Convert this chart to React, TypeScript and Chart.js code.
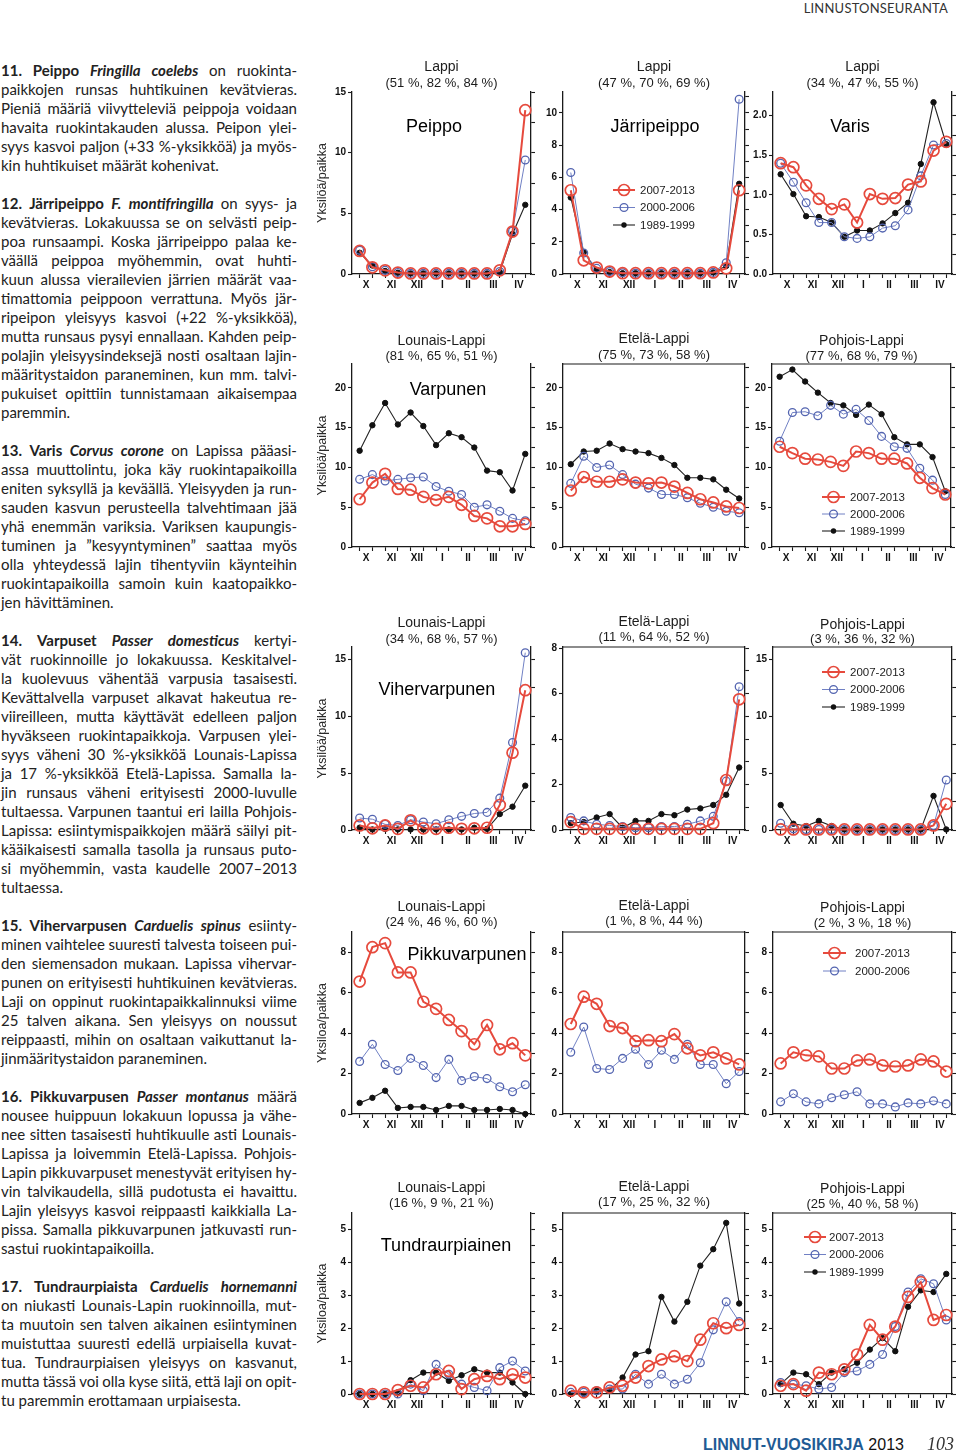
import React, { useEffect, useRef } from "react";
import { Chart, registerables } from "chart.js";
Chart.register(...registerables);

const FONT = "'Liberation Sans', Arial, Helvetica, sans-serif";
Chart.defaults.font.family = FONT;

// ---------- categories / labels ----------
const MONTHS = ["X", "XI", "XII", "I", "II", "III", "IV"];
const PERIODS = ["2007-2013", "2000-2006", "1989-1999"];

// ---------- y tick label sets ----------
const T15 = [0, 5, 10, 15];
const T10 = [0, 2, 4, 6, 8, 10];
const T2 = [0, 0.5, 1, 1.5, 2];
const T20 = [0, 5, 10, 15, 20];
const T8 = [0, 2, 4, 6, 8];
const T5 = [0, 1, 2, 3, 4, 5];

// ---------- data (14 half-month periods, Oct..Apr) ----------
// Peippo, Lappi
const peippo_2007 = [1.9, 0.55, 0.3, 0.12, 0.05, 0.05, 0.05, 0.05, 0.05, 0.05, 0.05, 0.3, 3.5, 13.5];
const peippo_2000 = [1.95, 0.6, 0.3, 0.12, 0.05, 0.05, 0.05, 0.05, 0.05, 0.05, 0.05, 0.2, 3.55, 9.4];
const peippo_1989 = [1.75, 0.7, 0.25, 0.1, 0.05, 0.05, 0.05, 0.05, 0.05, 0.05, 0.05, 0.15, 3.3, 5.7];
// Järripeippo, Lappi
const jarri_2007 = [5.2, 0.85, 0.4, 0.15, 0.05, 0.05, 0.05, 0.05, 0.05, 0.05, 0.05, 0.1, 0.35, 5.2];
const jarri_2000 = [6.3, 1.3, 0.35, 0.15, 0.08, 0.05, 0.05, 0.05, 0.05, 0.05, 0.05, 0.1, 0.7, 10.85];
const jarri_1989 = [4.75, 1.35, 0.25, 0.12, 0.05, 0.05, 0.05, 0.05, 0.05, 0.05, 0.05, 0.1, 0.5, 5.6];
// Varis, Lappi
const varis_2007 = [1.4, 1.35, 1.12, 0.95, 0.82, 0.88, 0.65, 1.01, 0.95, 0.96, 1.13, 1.17, 1.56, 1.67];
const varis_2000 = [1.4, 1.16, 0.9, 0.65, 0.65, 0.47, 0.45, 0.47, 0.58, 0.61, 0.81, 1.24, 1.63, 1.65];
const varis_1989 = [1.26, 1.01, 0.73, 0.72, 0.65, 0.47, 0.55, 0.55, 0.64, 0.77, 0.9, 1.39, 2.17, 1.64];
// Varpunen
const varpLou_2007 = [6.0, 8.1, 9.2, 7.3, 7.2, 6.3, 5.9, 6.3, 5.3, 3.9, 3.6, 2.6, 2.6, 2.9];
const varpLou_2000 = [8.5, 9.1, 8.3, 8.5, 8.7, 8.8, 7.6, 7.0, 6.6, 5.0, 5.3, 4.5, 3.6, 3.3];
const varpLou_1989 = [12.1, 15.3, 18.1, 15.4, 16.9, 15.2, 12.8, 14.3, 13.8, 12.5, 9.6, 9.4, 7.1, 11.7];
const varpEte_2007 = [7.1, 8.8, 8.2, 8.2, 8.5, 8.1, 8.0, 8.1, 7.6, 6.8, 6.0, 5.6, 5.1, 4.9];
const varpEte_2000 = [8.0, 11.4, 10.0, 10.3, 9.1, 7.9, 7.4, 6.6, 6.6, 6.2, 5.5, 5.0, 4.5, 4.3];
const varpEte_1989 = [10.4, 12.0, 12.1, 13.0, 12.3, 12.0, 11.8, 11.2, 10.3, 8.7, 8.7, 8.5, 7.2, 6.1];
const varpPoh_2007 = [12.6, 11.8, 11.1, 11.0, 10.7, 10.2, 12.0, 11.8, 11.1, 11.1, 10.5, 8.7, 7.4, 6.6];
const varpPoh_2000 = [13.3, 16.9, 17.0, 16.5, 17.8, 16.7, 17.3, 15.9, 13.9, 12.6, 12.4, 9.9, 8.4, 6.6];
const varpPoh_1989 = [21.4, 22.3, 20.8, 19.4, 18.1, 17.8, 16.6, 17.9, 16.7, 13.8, 12.9, 12.9, 11.3, 7.0];
// Vihervarpunen
const viheLou_2007 = [0.4, 0.15, 0.4, 0.1, 0.85, 0.15, 0.1, 0.2, 0.1, 0.15, 0.2, 2.2, 6.8, 12.3];
const viheLou_2000 = [1.05, 0.95, 0.5, 0.4, 0.9, 0.7, 0.55, 0.9, 1.2, 1.45, 1.55, 2.8, 7.7, 15.6];
const viheLou_1989 = [0.2, 0.05, 0.1, 0.05, 0.05, 0.05, 0.05, 0.05, 0.05, 0.2, 0.1, 1.4, 2.05, 3.9];
const viheEte_2007 = [0.35, 0.05, 0.05, 0.05, 0.05, 0.05, 0.05, 0.05, 0.05, 0.05, 0.05, 0.3, 2.2, 5.75];
const viheEte_2000 = [0.55, 0.4, 0.25, 0.2, 0.15, 0.1, 0.1, 0.15, 0.15, 0.25, 0.4, 0.6, 2.15, 6.3];
const viheEte_1989 = [0.3, 0.35, 0.55, 0.7, 0.1, 0.4, 0.4, 0.7, 0.65, 0.9, 0.95, 1.1, 1.55, 2.75];
const vihePoh_2007 = [0.05, 0.05, 0.05, 0.05, 0.05, 0.05, 0.05, 0.05, 0.05, 0.05, 0.05, 0.05, 0.4, 2.3];
const vihePoh_2000 = [0.6, 0.1, 0.05, 0.05, 0.05, 0.05, 0.05, 0.05, 0.05, 0.05, 0.05, 0.05, 0.4, 4.4];
const vihePoh_1989 = [2.2, 0.55, 0.35, 0.8, 0.35, 0.05, 0.05, 0.05, 0.05, 0.05, 0.05, 0.05, 3.0, 0.05];
// Pikkuvarpunen
const pikkLou_2007 = [6.55, 8.25, 8.45, 7.0, 7.0, 5.55, 5.2, 4.65, 4.1, 3.45, 4.4, 3.2, 3.5, 2.9];
const pikkLou_2000 = [2.6, 3.45, 2.45, 2.15, 2.75, 2.4, 1.8, 2.7, 1.65, 1.85, 1.75, 1.35, 1.1, 1.45];
const pikkLou_1989 = [0.55, 0.8, 1.15, 0.3, 0.35, 0.35, 0.2, 0.4, 0.4, 0.2, 0.2, 0.25, 0.2, 0.0];
const pikkEte_2007 = [4.45, 5.8, 5.45, 4.35, 4.25, 3.6, 3.65, 3.6, 3.95, 3.25, 2.9, 3.05, 2.75, 2.45];
const pikkEte_2000 = [3.05, 4.3, 2.25, 2.2, 2.75, 3.2, 2.45, 3.15, 2.7, 3.45, 2.45, 2.45, 1.5, 2.1];
const pikkPoh_2007 = [2.5, 3.05, 2.9, 2.85, 2.25, 2.25, 2.65, 2.7, 2.4, 2.35, 2.4, 2.7, 2.6, 2.1];
const pikkPoh_2000 = [0.6, 1.0, 0.6, 0.5, 0.8, 0.95, 1.1, 0.5, 0.5, 0.35, 0.55, 0.5, 0.65, 0.5];
// Tundraurpiainen
const tundLou_2007 = [0.0, 0.0, 0.0, 0.12, 0.25, 0.2, 0.6, 0.7, 0.15, 0.45, 0.55, 0.45, 0.6, 0.5];
const tundLou_2000 = [0.0, 0.0, 0.0, 0.0, 0.3, 0.1, 0.9, 0.6, 0.3, 0.2, 0.1, 0.8, 1.0, 0.7];
const tundLou_1989 = [0.0, 0.0, 0.0, 0.05, 0.42, 0.65, 0.65, 0.4, 0.57, 0.75, 0.65, 0.65, 0.35, 0.0];
const tundEte_2007 = [0.1, 0.05, 0.05, 0.2, 0.25, 0.5, 0.85, 1.05, 1.15, 1.0, 1.65, 2.15, 2.0, 2.1];
const tundEte_2000 = [0.05, 0.05, 0.1, 0.15, 0.15, 0.6, 0.3, 0.6, 0.3, 0.45, 0.95, 1.95, 2.8, 2.2];
const tundEte_1989 = [0.0, 0.0, 0.1, 0.1, 0.5, 1.2, 1.3, 2.95, 2.2, 2.8, 3.9, 4.4, 5.2, 2.75];
const tundPoh_2007 = [0.25, 0.3, 0.1, 0.65, 0.6, 0.75, 1.2, 2.1, 1.65, 2.05, 2.95, 3.4, 2.25, 2.4];
const tundPoh_2000 = [0.35, 0.3, 0.25, 0.15, 0.2, 0.65, 0.7, 0.9, 1.2, 2.05, 3.1, 3.5, 3.35, 2.25];
const tundPoh_1989 = [0.3, 0.65, 0.6, 0.3, 0.65, 0.75, 0.95, 1.35, 1.7, 1.3, 2.65, 3.15, 3.1, 3.65];

// ---------- text column ----------
const P11 = [
  "^11. ^Peippo ~Fringilla ~coelebs on ruokinta-",
  "paikkojen runsas huhtikuinen kevätvieras.",
  "Pieniä määriä viivytteleviä peippoja voidaan",
  "havaita ruokintakauden alussa. Peipon ylei-",
  "syys kasvoi paljon (+33 %-yksikköä) ja myös-",
  "kin huhtikuiset määrät kohenivat.",
];
const P12 = [
  "^12. ^Järripeippo ~F. ~montifringilla on syys- ja",
  "kevätvieras. Lokakuussa se on selvästi peip-",
  "poa runsaampi. Koska järripeippo palaa ke-",
  "väällä peippoa myöhemmin, ovat huhti-",
  "kuun alussa vierailevien järrien määrät vaa-",
  "timattomia peippoon verrattuna. Myös jär-",
  "ripeipon yleisyys kasvoi (+22 %-yksikköä),",
  "mutta runsaus pysyi ennallaan. Kahden peip-",
  "polajin yleisyysindeksejä nosti osaltaan lajin-",
  "määritystaidon paraneminen, kun mm. talvi-",
  "pukuiset opittiin tunnistamaan aikaisempaa",
  "paremmin.",
];
const P13 = [
  "^13. ^Varis ~Corvus ~corone on Lapissa pääasi-",
  "assa muuttolintu, joka käy ruokintapaikoilla",
  "eniten syksyllä ja keväällä. Yleisyyden ja run-",
  "sauden kasvun perusteella talvehtimaan jää",
  "yhä enemmän variksia. Variksen kaupungis-",
  "tuminen ja ”kesyyntyminen” saattaa myös",
  "olla yhteydessä lajin tihentyviin käynteihin",
  "ruokintapaikoilla samoin kuin kaatopaikko-",
  "jen hävittäminen.",
];
const P14 = [
  "^14. ^Varpuset ~Passer ~domesticus kertyi-",
  "vät ruokinnoille jo lokakuussa. Keskitalvel-",
  "la kuolevuus vähentää varpusia tasaisesti.",
  "Kevättalvella varpuset alkavat hakeutua re-",
  "viireilleen, mutta käyttävät edelleen paljon",
  "hyväkseen ruokintapaikkoja. Varpusen ylei-",
  "syys väheni 30 %-yksikköä Lounais-Lapissa",
  "ja 17 %-yksikköä Etelä-Lapissa. Samalla la-",
  "jin runsaus väheni erityisesti 2000-luvulle",
  "tultaessa. Varpunen taantui eri lailla Pohjois-",
  "Lapissa: esiintymispaikkojen määrä säilyi pit-",
  "kääikaisesti samalla tasolla ja runsaus puto-",
  "si myöhemmin, vasta kaudelle 2007–2013",
  "tultaessa.",
];
const P15 = [
  "^15. ^Vihervarpusen ~Carduelis ~spinus esiinty-",
  "minen vaihtelee suuresti talvesta toiseen pui-",
  "den siemensadon mukaan. Lapissa vihervar-",
  "punen on erityisesti huhtikuinen kevätvieras.",
  "Laji on oppinut ruokintapaikkalinnuksi viime",
  "25 talven aikana. Sen yleisyys on noussut",
  "reippaasti, mihin on osaltaan vaikuttanut la-",
  "jinmääritystaidon paraneminen.",
];
const P16 = [
  "^16. ^Pikkuvarpusen ~Passer ~montanus määrä",
  "nousee huippuun lokakuun lopussa ja vähe-",
  "nee sitten tasaisesti huhtikuulle asti Lounais-",
  "Lapissa ja loivemmin Etelä-Lapissa. Pohjois-",
  "Lapin pikkuvarpuset menestyvät erityisen hy-",
  "vin talvikaudella, sillä pudotusta ei havaittu.",
  "Lajin yleisyys kasvoi reippaasti kaikkialla La-",
  "pissa. Samalla pikkuvarpunen jatkuvasti run-",
  "sastui ruokintapaikoilla.",
];
const P17 = [
  "^17. ^Tundraurpiaista ~Carduelis ~hornemanni",
  "on niukasti Lounais-Lapin ruokinnoilla, mut-",
  "ta muutoin sen talven aikainen esiintyminen",
  "muistuttaa suuresti edellä urpiaisella kuvat-",
  "tua. Tundraurpiaisen yleisyys on kasvanut,",
  "mutta tässä voi olla kyse siitä, että laji on opit-",
  "tu paremmin erottamaan urpiaisesta.",
];
const PARAGRAPHS = [P11, P12, P13, P14, P15, P16, P17];

// ---------- styles ----------
const RED = "#e64a3d";
const BLUE = "#5364b0";
const BLUE_LINE = "#7080c4";
const BLACK = "#111111";
const AXIS = "#1a1a1a";
const SERIES_STYLE = [
  { line: RED, point: RED, fill: "rgba(0,0,0,0)", radius: 5.5, pbw: 1.7, bw: 2 },
  { line: BLUE_LINE, point: BLUE, fill: "rgba(0,0,0,0)", radius: 3.9, pbw: 1.3, bw: 1 },
  { line: "#222222", point: BLACK, fill: BLACK, radius: 2.7, pbw: 1, bw: 1.1 },
];

const PAD_L = 45;
const PAD_T = 45;
const PAD_R = 15;
const PAD_B = 25;
const X_MIN = 0.4;
const X_MAX = 14.45;

type Legend = { x1: number; x2: number; tx: number; y: number; dy: number; n: number };
type Spec = {
  L: number; R: number; T: number; B: number;
  max: number; ticks: number[]; minor: number; dec: number;
  title: string; sub: string; ty: number; sy: number;
  series: (number[] | null)[];
  species?: { text: string; x: number; y: number };
  legend?: Legend;
  axisTitle?: string;
  top: boolean;
};

const COL = [
  { L: 352, R: 531 },
  { L: 563, R: 745 },
  { L: 773, R: 952 },
];
const ROW = [
  { T: 92, B: 274 },
  { T: 364, B: 547 },
  { T: 647, B: 830 },
  { T: 932, B: 1114 },
  { T: 1213, B: 1394 },
];
const AX1 = "Yksilöä/paikka";
const AX2 = "Yksiloa/paikka";

const SPECS: Spec[] = [
  { ...COL[0], ...ROW[0], max: 15, ticks: T15, minor: 2.5, dec: 0, title: "Lappi", sub: "(51 %, 82 %, 84 %)", ty: 67, sy: 83,
    series: [peippo_2007, peippo_2000, peippo_1989], species: { text: "Peippo", x: 434, y: 127 }, axisTitle: AX1, top: false },
  { ...COL[1], ...ROW[0], max: 11.3, ticks: T10, minor: 1, dec: 0, title: "Lappi", sub: "(47 %, 70 %, 69 %)", ty: 67, sy: 83,
    series: [jarri_2007, jarri_2000, jarri_1989], species: { text: "Järripeippo", x: 655, y: 127 },
    legend: { x1: 613, x2: 635, tx: 640, y: 190, dy: 17.5, n: 3 }, top: false },
  { ...COL[2], ...ROW[0], max: 2.3, ticks: T2, minor: 0.25, dec: 1, title: "Lappi", sub: "(34 %, 47 %, 55 %)", ty: 67, sy: 83,
    series: [varis_2007, varis_2000, varis_1989], species: { text: "Varis", x: 850, y: 127 }, top: false },

  { ...COL[0], ...ROW[1], max: 23, ticks: T20, minor: 2.5, dec: 0, title: "Lounais-Lappi", sub: "(81 %, 65 %, 51 %)", ty: 341, sy: 356,
    series: [varpLou_2007, varpLou_2000, varpLou_1989], species: { text: "Varpunen", x: 448, y: 390 }, axisTitle: AX1, top: false },
  { ...COL[1], ...ROW[1], max: 23, ticks: T20, minor: 2.5, dec: 0, title: "Etelä-Lappi", sub: "(75 %, 73 %, 58 %)", ty: 339, sy: 355,
    series: [varpEte_2007, varpEte_2000, varpEte_1989], top: true },
  { L: 772, R: 951, ...ROW[1], max: 23, ticks: T20, minor: 2.5, dec: 0, title: "Pohjois-Lappi", sub: "(77 %, 68 %, 79 %)", ty: 341, sy: 356,
    series: [varpPoh_2007, varpPoh_2000, varpPoh_1989], legend: { x1: 822, x2: 845, tx: 850, y: 497, dy: 17, n: 3 }, top: true },

  { ...COL[0], ...ROW[2], max: 16.1, ticks: T15, minor: 2.5, dec: 0, title: "Lounais-Lappi", sub: "(34 %, 68 %, 57 %)", ty: 623, sy: 639,
    series: [viheLou_2007, viheLou_2000, viheLou_1989], species: { text: "Vihervarpunen", x: 437, y: 690 }, axisTitle: AX1, top: false },
  { ...COL[1], ...ROW[2], max: 8.05, ticks: T8, minor: 1, dec: 0, title: "Etelä-Lappi", sub: "(11 %, 64 %, 52 %)", ty: 622, sy: 637,
    series: [viheEte_2007, viheEte_2000, viheEte_1989], top: true },
  { ...COL[2], ...ROW[2], max: 16.1, ticks: T15, minor: 2.5, dec: 0, title: "Pohjois-Lappi", sub: "(3 %, 36 %, 32 %)", ty: 625, sy: 639,
    series: [vihePoh_2007, vihePoh_2000, vihePoh_1989], legend: { x1: 822, x2: 845, tx: 850, y: 672, dy: 17.5, n: 3 }, top: true },

  { ...COL[0], ...ROW[3], max: 9, ticks: T8, minor: 1, dec: 0, title: "Lounais-Lappi", sub: "(24 %, 46 %, 60 %)", ty: 907, sy: 922,
    series: [pikkLou_2007, pikkLou_2000, pikkLou_1989], species: { text: "Pikkuvarpunen", x: 467, y: 955 }, axisTitle: AX2, top: false },
  { ...COL[1], ...ROW[3], max: 9, ticks: T8, minor: 1, dec: 0, title: "Etelä-Lappi", sub: "(1 %, 8 %, 44 %)", ty: 906, sy: 921,
    series: [pikkEte_2007, pikkEte_2000, null], top: true },
  { ...COL[2], ...ROW[3], max: 9, ticks: T8, minor: 1, dec: 0, title: "Pohjois-Lappi", sub: "(2 %, 3 %, 18 %)", ty: 908, sy: 923,
    series: [pikkPoh_2007, pikkPoh_2000, null], legend: { x1: 823, x2: 846, tx: 855, y: 953, dy: 18, n: 2 }, top: true },

  { ...COL[0], ...ROW[4], max: 5.5, ticks: T5, minor: 0.5, dec: 0, title: "Lounais-Lappi", sub: "(16 %, 9 %, 21 %)", ty: 1188, sy: 1203,
    series: [tundLou_2007, tundLou_2000, tundLou_1989], species: { text: "Tundraurpiainen", x: 446, y: 1246 }, axisTitle: AX2, top: false },
  { ...COL[1], ...ROW[4], max: 5.5, ticks: T5, minor: 0.5, dec: 0, title: "Etelä-Lappi", sub: "(17 %, 25 %, 32 %)", ty: 1187, sy: 1202,
    series: [tundEte_2007, tundEte_2000, tundEte_1989], top: true },
  { ...COL[2], ...ROW[4], max: 5.5, ticks: T5, minor: 0.5, dec: 0, title: "Pohjois-Lappi", sub: "(25 %, 40 %, 58 %)", ty: 1189, sy: 1204,
    series: [tundPoh_2007, tundPoh_2000, tundPoh_1989], legend: { x1: 804, x2: 826, tx: 829, y: 1237, dy: 17.5, n: 3 }, top: true },
];

const X_TICKS: number[] = [];
for (let i = 1; i <= 14; i++) {
  X_TICKS.push(i);
  if (i % 2 === 1) X_TICKS.push(i + 0.5);
}

function monthLabel(v: number): string {
  const k = (v - 1.5) / 2;
  const r = Math.round(k);
  if (Math.abs(k - r) < 1e-6 && r >= 0 && r < MONTHS.length) return MONTHS[r];
  return "";
}

function drawMarker(ctx: CanvasRenderingContext2D, k: number, x: number, y: number) {
  const s = SERIES_STYLE[k];
  ctx.beginPath();
  ctx.arc(x, y, s.radius, 0, Math.PI * 2);
  if (k === 2) {
    ctx.fillStyle = s.fill;
    ctx.fill();
  } else {
    ctx.lineWidth = s.pbw;
    ctx.strokeStyle = s.point;
    ctx.stroke();
  }
}

function drawDecor(chart: Chart, spec: Spec) {
  const ctx = chart.ctx;
  const a = chart.chartArea;
  const ox = spec.L - PAD_L;
  const oy = spec.T - PAD_T;
  ctx.save();
  if (spec.top) {
    ctx.strokeStyle = AXIS;
    ctx.lineWidth = 1.2;
    ctx.beginPath();
    ctx.moveTo(a.left, a.top);
    ctx.lineTo(a.right, a.top);
    ctx.stroke();
  }
  const cx = (a.left + a.right) / 2;
  ctx.textAlign = "center";
  ctx.textBaseline = "middle";
  ctx.fillStyle = "#1c1c1c";
  ctx.font = `14px ${FONT}`;
  ctx.fillText(spec.title, cx, spec.ty - oy);
  ctx.font = `13px ${FONT}`;
  ctx.fillText(spec.sub, cx, spec.sy - oy);
  if (spec.species) {
    ctx.font = `18px ${FONT}`;
    ctx.fillStyle = "#000";
    ctx.fillText(spec.species.text, spec.species.x - ox, spec.species.y - oy);
  }
  if (spec.axisTitle) {
    ctx.save();
    ctx.translate(323 - ox, (a.top + a.bottom) / 2);
    ctx.rotate(-Math.PI / 2);
    ctx.font = `12.5px ${FONT}`;
    ctx.fillStyle = "#2a2a2a";
    ctx.fillText(spec.axisTitle, 0, 0);
    ctx.restore();
  }
  if (spec.legend) {
    const lg = spec.legend;
    for (let k = 0; k < lg.n; k++) {
      const y = lg.y + k * lg.dy - oy;
      const s = SERIES_STYLE[k];
      ctx.strokeStyle = s.line;
      ctx.lineWidth = s.bw;
      ctx.beginPath();
      ctx.moveTo(lg.x1 - ox, y);
      ctx.lineTo(lg.x2 - ox, y);
      ctx.stroke();
      drawMarker(ctx, k, (lg.x1 + lg.x2) / 2 - ox, y);
      ctx.fillStyle = "#1c1c1c";
      ctx.textAlign = "left";
      ctx.font = `11.5px ${FONT}`;
      ctx.fillText(PERIODS[k], lg.tx - ox, y + 0.5);
    }
  }
  ctx.restore();
}

function makeChart(canvas: HTMLCanvasElement, spec: Spec) {
  const datasets: any[] = [];
  spec.series.forEach((vals, k) => {
    if (!vals) return;
    const s = SERIES_STYLE[k];
    datasets.push({
      label: PERIODS[k],
      data: vals.map((v, i) => ({ x: i + 1, y: v })),
      borderColor: s.line,
      borderWidth: s.bw,
      backgroundColor: s.fill,
      pointBackgroundColor: s.fill,
      pointBorderColor: s.point,
      pointBorderWidth: s.pbw,
      pointRadius: s.radius,
      pointHoverRadius: s.radius,
      tension: 0,
      fill: false,
      clip: false,
    });
  });
  const minorTicks: number[] = [];
  for (let v = 0; v <= spec.max + 1e-9; v += spec.minor) minorTicks.push(Math.round(v * 1000) / 1000);
  const tickFont = { size: 10, weight: "bold" as const, family: FONT };
  return new Chart(canvas, {
    type: "line",
    data: { datasets },
    options: {
      responsive: false,
      animation: false,
      devicePixelRatio: 1,
      layout: { padding: { top: PAD_T, left: 0, right: 0, bottom: 0 } },
      plugins: { legend: { display: false }, tooltip: { enabled: false }, title: { display: false } },
      events: [],
      scales: {
        x: {
          type: "linear",
          position: "bottom",
          min: X_MIN,
          max: X_MAX,
          afterBuildTicks: (s: any) => {
            s.ticks = X_TICKS.map((v) => ({ value: v }));
          },
          afterFit: (s: any) => {
            s.height = PAD_B;
          },
          ticks: {
            autoSkip: false,
            maxRotation: 0,
            minRotation: 0,
            padding: 1,
            color: "#111",
            font: tickFont,
            callback: (v: any) => monthLabel(Number(v)),
          },
          grid: {
            drawOnChartArea: false,
            drawTicks: true,
            tickLength: 4,
            tickWidth: 1.1,
            tickColor: (c: any) => (c.tick && Number.isInteger(c.tick.value) ? AXIS : "rgba(0,0,0,0)"),
          },
          border: { display: true, color: AXIS, width: 1.3 },
        },
        y: {
          type: "linear",
          position: "left",
          min: 0,
          max: spec.max,
          afterBuildTicks: (s: any) => {
            s.ticks = spec.ticks.map((v) => ({ value: v }));
          },
          afterFit: (s: any) => {
            s.width = PAD_L;
          },
          ticks: {
            autoSkip: false,
            padding: 2,
            color: "#111",
            font: tickFont,
            callback: (v: any) => Number(v).toFixed(spec.dec),
          },
          grid: { drawOnChartArea: false, drawTicks: true, tickLength: 4, tickWidth: 1.1, tickColor: AXIS },
          border: { display: true, color: AXIS, width: 1.3 },
        },
        y2: {
          type: "linear",
          position: "right",
          min: 0,
          max: spec.max,
          afterBuildTicks: (s: any) => {
            s.ticks = minorTicks.map((v) => ({ value: v }));
          },
          afterFit: (s: any) => {
            s.width = PAD_R;
          },
          ticks: { display: false },
          grid: { drawOnChartArea: false, drawTicks: true, tickLength: 4, tickWidth: 1.1, tickColor: AXIS },
          border: { display: true, color: AXIS, width: 1.3 },
        },
      },
    } as any,
    plugins: [
      {
        id: "decor",
        afterDraw: (chart: Chart) => drawDecor(chart, spec),
      },
    ],
  });
}

function ChartCell({ spec }: { spec: Spec }) {
  const ref = useRef<HTMLCanvasElement>(null);
  const w = spec.R - spec.L + PAD_L + PAD_R;
  const h = spec.B - spec.T + PAD_T + PAD_B;
  useEffect(() => {
    if (!ref.current) return;
    const c = makeChart(ref.current, spec);
    return () => c.destroy();
  }, []);
  return (
    <canvas
      ref={ref}
      width={w}
      height={h}
      style={{ position: "absolute", left: spec.L - PAD_L, top: spec.T - PAD_T, width: w, height: h }}
    />
  );
}

function Word({ w }: { w: string }) {
  if (w.startsWith("^")) return <span style={{ fontWeight: 700 }}>{w.slice(1)}</span>;
  if (w.startsWith("~")) return <span style={{ fontWeight: 700, fontStyle: "italic" }}>{w.slice(1)}</span>;
  return <span>{w}</span>;
}

function TextLine({ text, last }: { text: string; last: boolean }) {
  const words = text.split(" ");
  if (last) {
    return (
      <div style={{ whiteSpace: "nowrap", height: 19 }}>
        {words.map((w, i) => (
          <React.Fragment key={i}>
            {i > 0 ? " " : ""}
            <Word w={w} />
          </React.Fragment>
        ))}
      </div>
    );
  }
  return (
    <div style={{ display: "flex", justifyContent: "space-between", whiteSpace: "nowrap", height: 19 }}>
      {words.map((w, i) => (
        <Word key={i} w={w} />
      ))}
    </div>
  );
}

function TextColumn() {
  return (
    <div
      style={{
        position: "absolute",
        left: 1,
        top: 60.5,
        width: 296,
        fontFamily: "Lato, 'Open Sans', sans-serif",
        fontSize: 15,
        lineHeight: "19px",
        color: "#222",
      }}
    >
      {PARAGRAPHS.map((p, i) => (
        <div key={i} style={{ marginBottom: 19 }}>
          {p.map((l, j) => (
            <TextLine key={j} text={l} last={j === p.length - 1} />
          ))}
        </div>
      ))}
    </div>
  );
}

export default function App() {
  return (
    <div
      style={{
        position: "absolute",
        left: 0,
        top: 0,
        width: 960,
        height: 1455,
        background: "#fff",
        overflow: "hidden",
      }}
    >
      <div
        style={{
          position: "absolute",
          right: 12,
          top: 0,
          fontFamily: "Lato, sans-serif",
          fontSize: 13,
          letterSpacing: 0.2,
          color: "#333",
          lineHeight: "16px",
        }}
      >
        LINNUSTONSEURANTA
      </div>
      <TextColumn />
      {SPECS.map((s, i) => (
        <ChartCell key={i} spec={s} />
      ))}
      <div
        style={{
          position: "absolute",
          left: 703,
          top: 1435,
          fontFamily: FONT,
          fontSize: 16,
          lineHeight: "20px",
          whiteSpace: "nowrap",
        }}
      >
        <span style={{ color: "#1f5b94", fontWeight: 700 }}>LINNUT-VUOSIKIRJA</span>
        <span style={{ color: "#111" }}> 2013</span>
      </div>
      <div
        style={{
          position: "absolute",
          left: 927,
          top: 1434,
          fontFamily: "'Liberation Serif', 'DejaVu Serif', serif",
          fontStyle: "italic",
          fontSize: 18,
          lineHeight: "20px",
          color: "#333",
        }}
      >
        103
      </div>
    </div>
  );
}
